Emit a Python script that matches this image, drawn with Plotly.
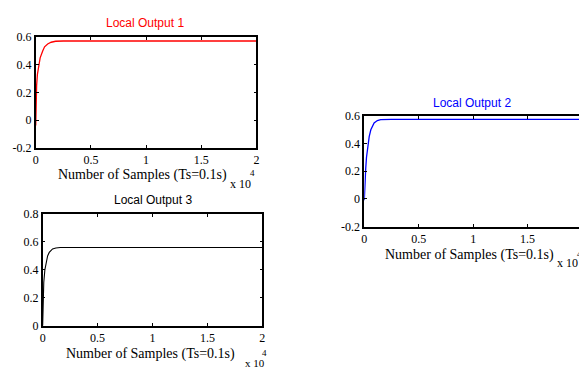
import plotly.graph_objects as go

# sample index in units of 10^4 samples
x_out1 = [0, 0.003, 0.008, 0.015, 0.027, 0.04, 0.063, 0.08, 0.108, 0.14, 0.18, 0.25, 2.0]
y_out1 = [-0.04, 0.12, 0.25, 0.33, 0.40, 0.45, 0.50, 0.53, 0.55, 0.563, 0.57, 0.572, 0.572]

x_out2 = [0, 0.003, 0.008, 0.013, 0.02, 0.033, 0.045, 0.06, 0.09, 0.12, 0.15, 0.25, 2.0]
y_out2 = [-0.01, 0.10, 0.17, 0.22, 0.30, 0.40, 0.45, 0.50, 0.55, 0.567, 0.574, 0.576, 0.576]

x_out3 = [0, 0.002, 0.005, 0.01, 0.02, 0.03, 0.045, 0.06, 0.09, 0.12, 0.16, 0.25, 2.0]
y_out3 = [0.0, 0.15, 0.24, 0.31, 0.40, 0.45, 0.50, 0.525, 0.55, 0.557, 0.56, 0.56, 0.56]

x_ticks = [0, 0.5, 1, 1.5, 2]
x_ticktext = ["0", "0.5", "1", "1.5", "2"]

# the page body has an 8px margin, so the figure is drawn 8px in from the corner
OFF = 8
W, H = 587 - OFF, 374 - OFF
SERIF = "Liberation Serif, Times New Roman, serif"
SANS = "Liberation Sans, Arial, sans-serif"


def px_x(p):
    return (p - OFF) / W


def px_y(p):
    return 1 - (p - OFF) / H


fig = go.Figure()
fig.add_trace(go.Scatter(x=x_out1, y=y_out1, mode="lines", line=dict(color="#ff0000", width=1.3),
                         xaxis="x", yaxis="y"))
fig.add_trace(go.Scatter(x=x_out2, y=y_out2, mode="lines", line=dict(color="#0000ff", width=1.3),
                         xaxis="x2", yaxis="y2"))
fig.add_trace(go.Scatter(x=x_out3, y=y_out3, mode="lines", line=dict(color="#000000", width=1.1),
                         xaxis="x3", yaxis="y3"))

axis_style = dict(
    showline=True, linecolor="black", linewidth=1.6, mirror="allticks",
    ticks="inside", ticklen=3, tickwidth=1, tickcolor="black", showgrid=False, zeroline=False,
    tickfont=dict(family=SERIF, size=12, color="black"),
)

# pixel boxes in the page: (left, right, top, bottom)
boxes = {
    "1": (33, 256, 31, 146),
    "2": (365, 585, 113, 228),
    "3": (40, 262, 215, 331),
}

layout = dict(
    width=W, height=H, margin=dict(l=0, r=0, t=0, b=0),
    paper_bgcolor="white", plot_bgcolor="white", showlegend=False,
)
yranges = {"1": [-0.2, 0.6], "2": [-0.2, 0.6], "3": [0, 0.8]}
yticks = {"1": [-0.2, 0, 0.2, 0.4, 0.6], "2": [-0.2, 0, 0.2, 0.4, 0.6], "3": [0, 0.2, 0.4, 0.6, 0.8]}
for k, (l, r, t, b) in boxes.items():
    sfx = "" if k == "1" else k
    layout["xaxis" + sfx] = dict(axis_style, domain=[px_x(l), px_x(r)], range=[0, 2],
                                 tickvals=x_ticks, ticktext=x_ticktext,
                                 anchor="y" + sfx)
    layout["yaxis" + sfx] = dict(axis_style, domain=[px_y(b), px_y(t)], range=yranges[k],
                                 tickvals=yticks[k],
                                 ticktext=[("%g" % v) for v in yticks[k]],
                                 anchor="x" + sfx)
fig.update_layout(**layout)

titles = [
    ("Local Output 1", 143, 16, "#ff0000"),
    ("Local Output 2", 474, 100, "#0000ff"),
    ("Local Output 3", 151, 200, "#000000"),
]
for text, cx, cy, col in titles:
    fig.add_annotation(text=text, x=px_x(cx), y=px_y(cy), xref="paper", yref="paper",
                       xanchor="center", yanchor="middle", showarrow=False,
                       font=dict(family=SANS, size=12, color=col))

# axis label centre, "x 10" left edge and middle, exponent right edge and middle, size
xlabels = [
    (141, 174, 227, 184, 257, 172, 12),
    (471, 258, 558, 266, 587, 257, 12),
    (149, 361, 242, 370, 269, 359, 11),
]
for cx, cy, ex, ey, px4, py4, fs in xlabels:
    fig.add_annotation(text="Number of Samples (Ts=0.1s)", x=px_x(cx), y=px_y(cy),
                       xref="paper", yref="paper", xanchor="center", yanchor="middle",
                       showarrow=False, font=dict(family=SERIF, size=14, color="black"))
    fig.add_annotation(text="x 10", x=px_x(ex), y=px_y(ey),
                       xref="paper", yref="paper", xanchor="left", yanchor="middle",
                       showarrow=False, font=dict(family=SERIF, size=fs, color="black"))
    fig.add_annotation(text="4", x=px_x(px4), y=px_y(py4),
                       xref="paper", yref="paper", xanchor="right", yanchor="middle",
                       showarrow=False, font=dict(family=SERIF, size=9, color="black"))

fig.write_html("out.html")
